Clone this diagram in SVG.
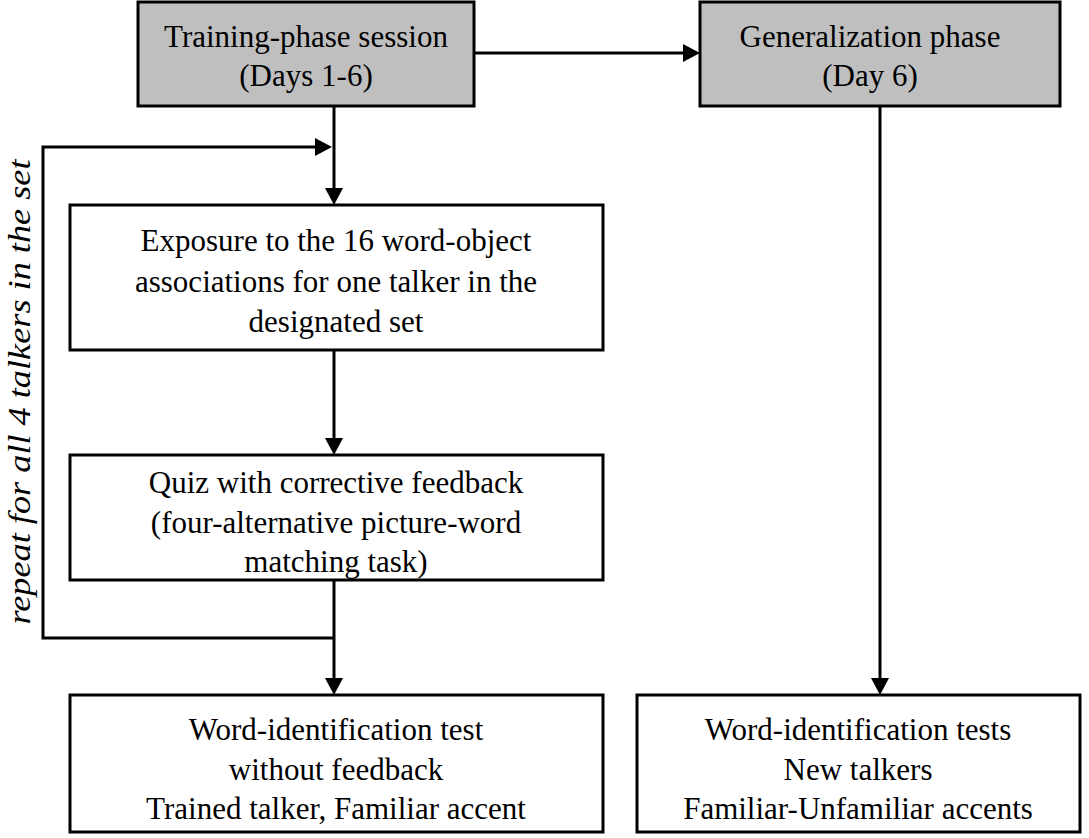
<svg xmlns="http://www.w3.org/2000/svg" width="1089" height="838" viewBox="0 0 1089 838">
<style>
.box{fill:#fff;stroke:#000;stroke-width:3}
.gray{fill:#bfbfbf}
text{font-family:"Liberation Serif",serif;font-size:31px;fill:#000;text-anchor:middle}
.ln{fill:none;stroke:#000;stroke-width:3}
</style>
<g id="connectors">
<path class="ln" d="M474,53 H684"/><path d="M700,53 l-17,-9 v18 z"/>
<path class="ln" d="M334,106 V190"/><path d="M334,205 l-9,-17 h18 z"/>
<path class="ln" d="M334,350 V440"/><path d="M334,455 l-9,-17 h18 z"/>
<path class="ln" d="M334,580 V680"/><path d="M334,695 l-9,-17 h18 z"/>
<path class="ln" d="M334,638 H43 V147 H316"/><path d="M332,147 l-17,-9 v18 z"/>
<path class="ln" d="M880,106 V680"/><path d="M880,695 l-9,-17 h18 z"/>
</g>
<g id="n1"><rect class="box gray" x="138" y="2" width="336" height="104"/><text x="306" y="47">Training-phase session</text><text x="306" y="86">(Days 1-6)</text></g>
<g id="n2"><rect class="box gray" x="700" y="2" width="360" height="104"/><text x="870" y="47">Generalization phase</text><text x="870" y="86">(Day 6)</text></g>
<g id="n3"><rect class="box" x="70" y="205" width="533" height="145"/><text x="336" y="251">Exposure to the 16 word-object</text><text x="336" y="292">associations for one talker in the</text><text x="336" y="332">designated set</text></g>
<g id="n4"><rect class="box" x="70" y="455" width="533" height="125"/><text x="336" y="493">Quiz with corrective feedback</text><text x="336" y="533">(four-alternative picture-word</text><text x="336" y="572">matching task)</text></g>
<g id="n5"><rect class="box" x="70" y="695" width="533" height="137"/><text x="336" y="740">Word-identification test</text><text x="336" y="780">without feedback</text><text x="336" y="819">Trained talker, Familiar accent</text></g>
<g id="n6"><rect class="box" x="637" y="695" width="443" height="137"/><text x="858" y="740">Word-identification tests</text><text x="858" y="780">New talkers</text><text x="858" y="819">Familiar-Unfamiliar accents</text></g>
<text transform="translate(30,392) rotate(-90)" style="font-style:italic" textLength="465" lengthAdjust="spacingAndGlyphs">repeat for all 4 talkers in the set</text>
</svg>
